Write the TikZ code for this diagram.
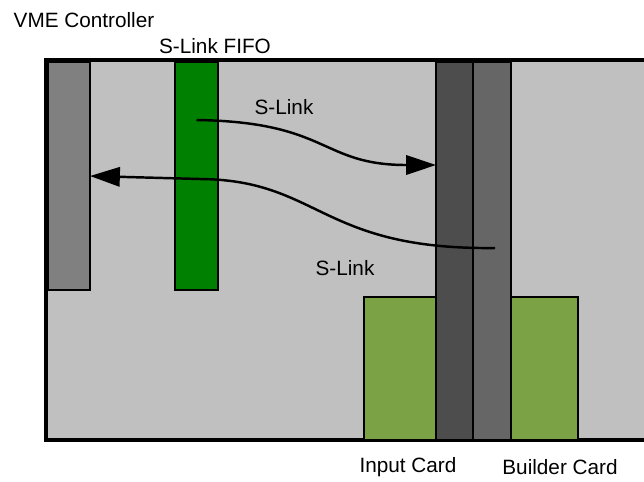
\documentclass[tikz,border=0pt]{standalone}
\usepackage{fontspec}
\setmainfont{Liberation Sans}
\usetikzlibrary{arrows.meta}

\definecolor{crategray}{HTML}{C0C0C0}
\definecolor{vmegray}{HTML}{808080}
\definecolor{fifogreen}{HTML}{008000}
\definecolor{inbargray}{HTML}{4D4D4D}
\definecolor{bldbargray}{HTML}{666666}
\definecolor{boardgreen}{HTML}{7BA346}

\tikzset{
	card/.style={draw=black, line width=1.5pt, anchor=north west, inner sep=0pt, outer sep=0pt},
	link/.style={line width=1.4pt, -{Triangle[length=17pt,width=11pt]}},
	lbl/.style={font=\fontsize{11.8}{14}\selectfont, inner sep=0pt}
}

\begin{document}
\begin{tikzpicture}[x=0.02cm,y=-0.02cm]
		\useasboundingbox (0,0) rectangle (644,481);
		
		% Draw crate.
		\fill[crategray] (46,60) rectangle (644,440);
		\draw[line width=2pt] (644,60) -- (46,60) -- (46,440) -- (644,440);
		
		% Draw cards.
		\node[card, fill=vmegray, minimum width=0.84cm, minimum height=4.56cm] (vme) at (48,62) {};
		\node[card, fill=fifogreen, minimum width=0.86cm, minimum height=4.56cm] (fifo) at (175,62) {};
		\node[card, fill=boardgreen, minimum width=1.44cm, minimum height=2.86cm] (inbrd) at (364,297) {};
		\node[card, fill=boardgreen, minimum width=1.34cm, minimum height=2.86cm] (bldbrd) at (511,297) {};
		\node[card, fill=inbargray, minimum width=0.74cm, minimum height=7.56cm] (inbar) at (436,62) {};
		\node[card, fill=bldbargray, minimum width=0.76cm, minimum height=7.56cm] (bldbar) at (473,62) {};
		
		% Draw labels.
		\node[lbl] (vmelbl) at (84,20) {VME Controller};
		\node[lbl] (fifolbl) at (215,46) {S-Link FIFO};
		\node[lbl] (inlbl) at (408,467) {Input Card};
		\node[lbl] (bldlbl) at (560,467) {Builder Card};
		
		% Draw S-Link connections.
		\coordinate (fifoout) at (fifo.north |- 0,120);
		\coordinate (inbarin) at (inbar.west |- 0,165);
		\draw[link] (fifoout) .. controls (330,122) and (320,165) .. (inbarin);
		\node[lbl] (uplink) at (284,107) {S-Link};
		
		\coordinate (bldout) at (495,248);
		\coordinate (vmein) at (vme.east |- 0,176);
		\draw[link] (bldout) .. controls (320,250) and (320,180) .. (200,179) -- (vmein);
		\node[lbl] (lowlink) at (345,268) {S-Link};
	\end{tikzpicture}
\end{document}
